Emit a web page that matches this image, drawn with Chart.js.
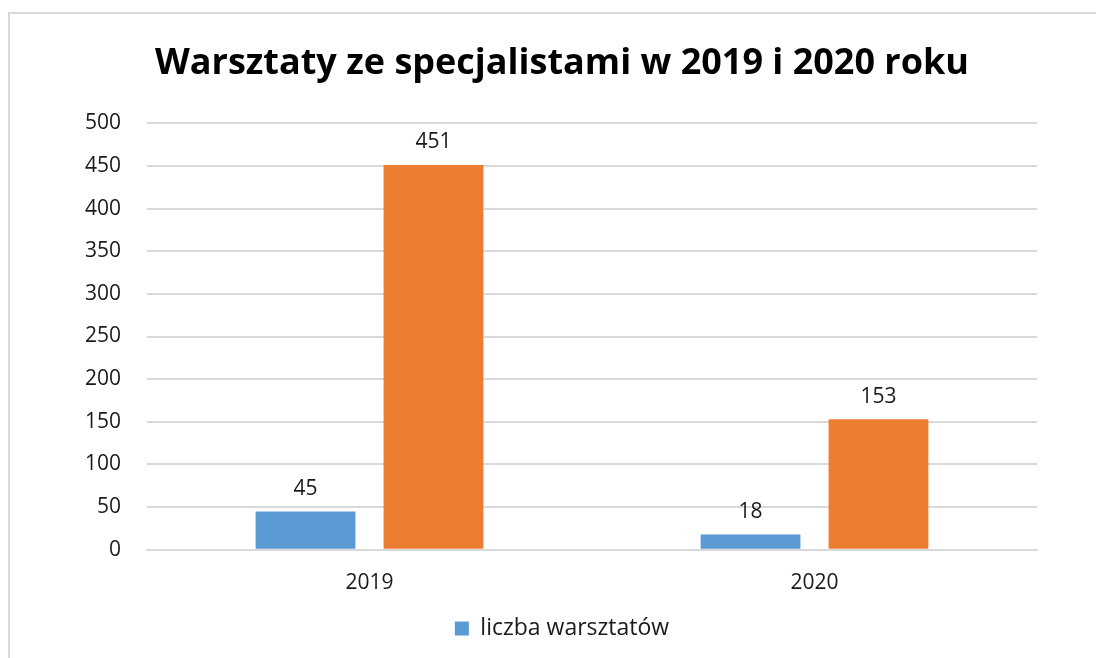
<!DOCTYPE html>
<html>
<head>
<meta charset="utf-8">
<script src="https://cdn.jsdelivr.net/npm/chart.js@4/dist/chart.umd.min.js"></script>
<style>
    html, body { margin: 0; padding: 0; background: #fff; }
    #wrap { position: relative; width: 1096px; height: 658px; overflow: hidden; }
    #frame { position: absolute; left: 8px; top: 12px; width: 1200px; height: 800px; border: 2px solid #d9d9d9; box-sizing: border-box; }
    canvas { position: absolute; left: 0; top: 0; }
</style>
</head>
<body>
<div id="wrap">
    <div id="frame"></div>
    <canvas id="chart" width="1096" height="658"></canvas>
</div>
<script>
const categories = ['2019', '2020'];
const workshops = [45, 18];
const participants = [451, 153];
const yTicks = [0, 50, 100, 150, 200, 250, 300, 350, 400, 450, 500];

const FONT = "'Open Sans', 'Liberation Sans', sans-serif";
const TEXT = '#1a1a1a';

// draw value above every bar
const valueLabels = {
    id: 'valueLabels',
    afterDatasetsDraw(chart) {
        const ctx = chart.ctx;
        ctx.save();
        ctx.font = '21px ' + FONT;
        ctx.fillStyle = TEXT;
        ctx.textAlign = 'center';
        ctx.textBaseline = 'bottom';
        chart.data.datasets.forEach((ds, i) => {
            chart.getDatasetMeta(i).data.forEach((bar, j) => {
                ctx.fillText(ds.data[j], bar.x, bar.y - 12);
            });
        });
        ctx.restore();
    }
};

Chart.defaults.font.family = FONT;
Chart.defaults.color = TEXT;

new Chart(document.getElementById('chart'), {
    type: 'bar',
    data: {
        labels: categories,
        datasets: [{
            label: 'liczba warsztatów',
            data: workshops,
            backgroundColor: '#5B9BD5'
        }, {
            label: 'liczba uczestników',
            data: participants,
            backgroundColor: '#ED7D31'
        }]
    },
    options: {
        responsive: false,
        animation: false,
        categoryPercentage: 0.575,
        barPercentage: 0.78,
        layout: { padding: { left: 28, right: 0, top: 0, bottom: 8 } },
        scales: {
            x: {
                grid: { display: false },
                border: { color: '#d9d9d9', width: 2 },
                ticks: { font: { size: 21 }, padding: 13 }
            },
            y: {
                min: 0,
                max: 500,
                afterBuildTicks(scale) {
                    scale.ticks = yTicks.map(v => ({ value: v }));
                },
                afterFit(scale) { scale.width = 119; },
                grid: { color: '#d9d9d9', lineWidth: 2, drawTicks: false },
                border: { display: false },
                ticks: { font: { size: 21 }, padding: 26 }
            },
            // empty right axis, only keeps the plot off the right edge
            spacer: {
                type: 'linear',
                position: 'right',
                afterFit(scale) { scale.width = 59; },
                grid: { display: false },
                border: { display: false },
                ticks: { display: false }
            }
        },
        plugins: {
            title: {
                display: true,
                text: 'Warsztaty ze specjalistami w 2019 i 2020 roku',
                color: '#000',
                font: { size: 36, weight: 'bold' },
                padding: { top: 42, bottom: 38 }
            },
            legend: {
                position: 'bottom',
                labels: {
                    filter: item => item.datasetIndex === 0,
                    boxWidth: 14,
                    boxHeight: 14,
                    padding: 8,
                    font: { size: 23 }
                }
            },
            tooltip: { enabled: false }
        }
    },
    plugins: [valueLabels]
});
</script>
</body>
</html>
